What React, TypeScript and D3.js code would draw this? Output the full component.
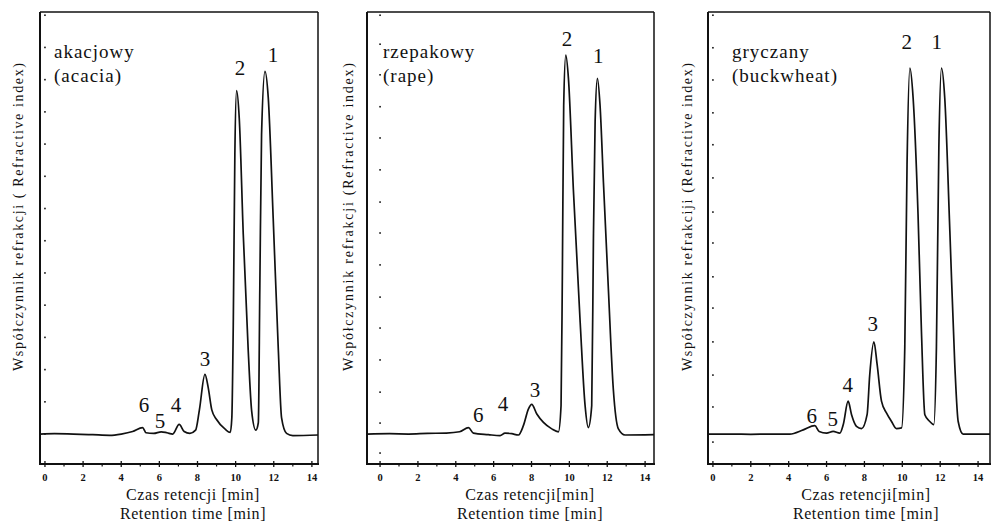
import React, { useEffect, useRef } from 'react'
import * as d3 from 'd3'

// retention time [min], detector signal (arbitrary units, baseline = 0)
const acaciaTrace: [number, number][] = [
  [-0.26, 0.0], [0.5, 0.01], [1.5, 0.0], [2.5, -0.02], [3.4, -0.04], [4.0, 0.0],
  [4.6, 0.08], [5.12, 0.2], [5.3, 0.04], [5.7, 0.02], [6.1, 0.07], [6.4, 0.04],
  [6.7, 0.0], [7.04, 0.3], [7.3, 0.08], [7.6, 0.02], [7.9, 0.12], [8.1, 0.75],
  [8.39, 1.85], [8.56, 1.45], [8.75, 0.75], [9.0, 0.45], [9.45, 0.15], [9.72, 0.05],
  [9.8, 0.5], [9.88, 3.6], [9.96, 8.7], [10.05, 10.66], [10.19, 9.8], [10.4, 6.2],
  [10.66, 2.6], [10.84, 0.72], [11.06, 0.12], [11.19, 0.35], [11.27, 4.6], [11.36, 9.3],
  [11.54, 11.26], [11.71, 10.45], [11.97, 6.7], [12.24, 2.6], [12.41, 0.5], [12.67, 0.02],
  [13.0, -0.05], [14.32, -0.03]
]

const rapeTrace: [number, number][] = [
  [-0.69, 0.0], [0.5, 0.01], [1.5, 0.0], [2.5, 0.02], [3.5, 0.03], [4.2, 0.07],
  [4.67, 0.2], [4.93, 0.03], [5.72, -0.02], [6.34, -0.05], [6.6, 0.03], [6.96, 0.01],
  [7.31, -0.03], [7.57, 0.26], [7.84, 0.78], [8.01, 0.92], [8.28, 0.62], [8.63, 0.36],
  [9.07, 0.16], [9.42, 0.07], [9.56, 0.88], [9.63, 5.0], [9.7, 10.2], [9.81, 11.76],
  [9.95, 11.04], [10.21, 7.6], [10.57, 3.47], [10.83, 0.88], [11.0, 0.2], [11.18, 0.88],
  [11.27, 6.06], [11.36, 9.7], [11.48, 11.04], [11.62, 10.2], [11.8, 7.8], [12.06, 4.5],
  [12.32, 1.4], [12.59, 0.16], [12.94, -0.03], [14.47, -0.02]
]

const buckwheatTrace: [number, number][] = [
  [-0.26, 0.0], [1.0, 0.0], [2.0, -0.01], [3.0, 0.0], [4.06, 0.0], [4.77, 0.13],
  [5.38, 0.26], [5.61, 0.08], [6.0, 0.03], [6.35, 0.08], [6.7, 0.03], [6.88, 0.29],
  [7.14, 1.02], [7.32, 0.6], [7.58, 0.24], [7.85, 0.17], [8.14, 0.6], [8.28, 1.84],
  [8.5, 2.86], [8.67, 2.16], [8.9, 1.02], [9.17, 0.65], [9.43, 0.39], [9.69, 0.17],
  [9.96, 0.19], [10.13, 2.67], [10.25, 8.37], [10.4, 11.36], [10.57, 10.44], [10.83, 6.82],
  [11.01, 3.19], [11.19, 0.6], [11.45, 0.39], [11.66, 0.29], [11.8, 2.67], [11.93, 8.9],
  [12.07, 11.36], [12.24, 10.44], [12.51, 6.3], [12.77, 2.16], [12.95, 0.39], [13.21, 0.0],
  [14.63, 0.0]
]

// peak numbers: label, time, signal level of the label baseline
const acaciaPeaks: [string, number, number][] = [
  ['1', 11.96, 11.55], ['2', 10.23, 11.14], ['3', 8.39, 2.1],
  ['4', 6.87, 0.67], ['5', 6.03, 0.2], ['6', 5.19, 0.67]
]
const rapePeaks: [string, number, number][] = [
  ['2', 9.88, 12.03], ['1', 11.52, 11.53], ['3', 8.19, 1.15],
  ['4', 6.5, 0.72], ['6', 5.18, 0.37]
]
const buckwheatPeaks: [string, number, number][] = [
  ['2', 10.24, 11.94], ['1', 11.82, 11.94], ['3', 8.44, 3.2],
  ['4', 7.12, 1.3], ['5', 6.33, 0.25], ['6', 5.22, 0.35]
]

const honeyNames = [['akacjowy', '(acacia)'], ['rzepakowy', '(rape)'], ['gryczany', '(buckwheat)']]
const yTitles = [
  'Współczynnik refrakcji ( Refractive index)',
  'Współczynnik refrakcji (Refractive index)',
  'Współczynnik refrakciji (Refractive index)'
]
const xTitles = [
  ['Czas retencji [min]', 'Retention time [min]'],
  ['Czas retencji[min]', 'Retention time [min]'],
  ['Czas retencji[min]', 'Retention time [min]']
]
const timeDomains = [[-0.26, 14.32], [-0.69, 14.47], [-0.26, 14.63]]
const majorTicks = [0, 2, 4, 6, 8, 10, 12, 14]
const minorTicks = [1, 3, 5, 7, 9, 11, 13]
const yDots = [
  [0, 1, 2, 3, 4, 5, 6, 7, 8, 9, 10, 11, 12, 13],
  [-0.59, 0.34, 1.3, 2.3, 3.29, 4.25, 5.25, 6.24, 7.2, 8.2, 9.19, 10.16, 11.15, 12.1, 13.0],
  [-0.25, 0.84, 1.83, 2.86, 3.91, 4.88, 5.93, 6.89, 7.95, 8.98, 9.97, 10.99, 11.99, 13.0]
]
const signalDomain = [-0.93, 13.1]

const traces = [acaciaTrace, rapeTrace, buckwheatTrace]
const peaks = [acaciaPeaks, rapePeaks, buckwheatPeaks]

const W = 991
const H = 526
const frames = [[40, 318], [367, 654], [708, 990]]
const top = 12
const bottom = 464
const ink = '#111'
const serif = "'Liberation Serif', 'Times New Roman', 'DejaVu Serif', serif"

export default function App() {
  const ref = useRef<SVGSVGElement>(null)

  useEffect(() => {
    const svg = d3.select(ref.current)
    svg.selectAll('*').remove()

    const y = d3.scaleLinear().domain(signalDomain).range([bottom, top])

    frames.forEach(([left, right], i) => {
      const x = d3.scaleLinear().domain(timeDomains[i]).range([left, right])
      const g = svg.append('g').style('font-family', serif)

      // frame
      g.append('line').attr('x1', left).attr('x2', right).attr('y1', top).attr('y2', top)
        .attr('stroke', ink).attr('stroke-width', 1.5)
      g.append('line').attr('x1', left).attr('x2', left).attr('y1', top).attr('y2', bottom)
        .attr('stroke', ink).attr('stroke-width', 2)
      g.append('line').attr('x1', right).attr('x2', right).attr('y1', top).attr('y2', bottom)
        .attr('stroke', ink).attr('stroke-width', 1.5)
      g.append('line').attr('x1', left - 1).attr('x2', right + 1).attr('y1', bottom).attr('y2', bottom)
        .attr('stroke', ink).attr('stroke-width', 2)

      // x ticks
      g.selectAll('line.major').data(majorTicks).enter().append('line')
        .attr('class', 'major')
        .attr('x1', d => x(d)).attr('x2', d => x(d))
        .attr('y1', bottom - 3).attr('y2', bottom + 3)
        .attr('stroke', ink).attr('stroke-width', 1.3)
      g.selectAll('line.minor').data(minorTicks).enter().append('line')
        .attr('class', 'minor')
        .attr('x1', d => x(d)).attr('x2', d => x(d))
        .attr('y1', bottom - 1).attr('y2', bottom + 2.5)
        .attr('stroke', ink).attr('stroke-width', 1.2)
      g.selectAll('text.tick').data(majorTicks).enter().append('text')
        .attr('class', 'tick')
        .attr('x', d => x(d)).attr('y', bottom + 17)
        .attr('text-anchor', 'middle')
        .attr('font-size', 10.5).attr('font-weight', 'bold')
        .attr('fill', ink)
        .text(d => d)

      // y dots
      g.selectAll('rect.ydot').data(yDots[i]).enter().append('rect')
        .attr('class', 'ydot')
        .attr('x', x(0) - 0.8).attr('y', d => y(d) - 0.8)
        .attr('width', 1.6).attr('height', 1.6)
        .attr('fill', ink)

      // trace
      const line = d3.line<[number, number]>()
        .x(d => x(d[0]))
        .y(d => y(d[1]))
        .curve(d3.curveMonotoneX)
      g.append('path')
        .attr('d', line(traces[i]))
        .attr('fill', 'none')
        .attr('stroke', ink)
        .attr('stroke-width', 1.7)
        .attr('stroke-linejoin', 'round')

      // peak numbers
      g.selectAll('text.peak').data(peaks[i]).enter().append('text')
        .attr('class', 'peak')
        .attr('x', d => x(d[1])).attr('y', d => y(d[2]))
        .attr('text-anchor', 'middle')
        .attr('font-size', 21)
        .attr('fill', ink)
        .text(d => d[0])

      // honey name
      const nx = [54, 383, 732][i]
      honeyNames[i].forEach((s, k) => {
        g.append('text')
          .attr('x', nx).attr('y', 58 + k * 24)
          .attr('font-size', 19)
          .attr('letter-spacing', 1)
          .attr('fill', ink)
          .text(s)
      })

      // y title
      const ty = [18, 348, 687][i]
      g.append('text')
        .attr('transform', `translate(${ty + 5},217) rotate(-90)`)
        .attr('text-anchor', 'middle')
        .attr('font-size', 14)
        .attr('textLength', 308).attr('lengthAdjust', 'spacing')
        .attr('fill', ink)
        .text(yTitles[i])

      // x titles
      const cx = [193, 530, 866][i]
      xTitles[i].forEach((s, k) => {
        g.append('text')
          .attr('x', cx).attr('y', 500 + k * 19)
          .attr('text-anchor', 'middle')
          .attr('font-size', 16)
          .attr('letter-spacing', 0.6)
          .attr('fill', ink)
          .text(s)
      })
    })
  }, [])

  return (
    <svg
      ref={ref}
      width={W}
      height={H}
      style={{ position: 'absolute', left: 0, top: 0, background: '#fff' }}
    />
  )
}
